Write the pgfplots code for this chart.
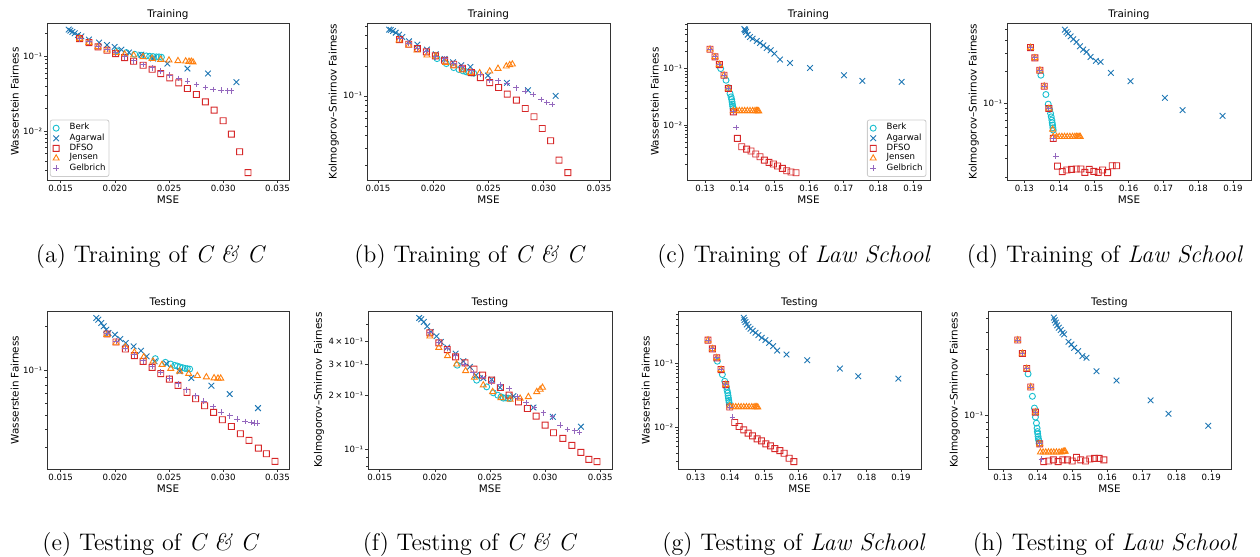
\documentclass[border=0pt]{standalone}
\usepackage{fontspec}
\usepackage{pgfplots}
\pgfplotsset{compat=1.18}
\newfontfamily\dejavu{DejaVu Sans}
\definecolor{tabblue}{HTML}{1F77B4}
\definecolor{taborange}{HTML}{FF7F0E}
\definecolor{tabred}{HTML}{D62728}
\definecolor{tabpurple}{HTML}{9467BD}
\definecolor{tabcyan}{HTML}{17BECF}
\newcommand\tickfont{\dejavu\fontsize{4.3}{5}\selectfont}
\newcommand\labfont{\dejavu\fontsize{5.2}{6}\selectfont}
\newcommand\capfont{\fontsize{12}{14}\selectfont}

% open square as a filled ring (outer path one way, inner path the other way)
\pgfdeclareplotmark{sqring}{%
  \pgfmathsetlengthmacro\sqo{\pgfplotmarksize+0.225pt}%
  \pgfmathsetlengthmacro\sqi{\pgfplotmarksize-0.225pt}%
  \pgfpathmoveto{\pgfqpoint{-\sqo}{-\sqo}}%
  \pgfpathlineto{\pgfqpoint{\sqo}{-\sqo}}%
  \pgfpathlineto{\pgfqpoint{\sqo}{\sqo}}%
  \pgfpathlineto{\pgfqpoint{-\sqo}{\sqo}}%
  \pgfpathclose
  \pgfpathmoveto{\pgfqpoint{-\sqi}{-\sqi}}%
  \pgfpathlineto{\pgfqpoint{-\sqi}{\sqi}}%
  \pgfpathlineto{\pgfqpoint{\sqi}{\sqi}}%
  \pgfpathlineto{\pgfqpoint{\sqi}{-\sqi}}%
  \pgfpathclose
  \pgfusepathqfill}

\pgfplotsset{
  every axis title shift=0pt,
  every axis/.append style={
    scale only axis, scaled x ticks=false, scaled y ticks=false,
    axis line style={draw=black!80, line width=0.35pt},
    tick style={draw=black!80, line width=0.3pt},
    tick align=outside, major tick length=1.3pt, minor tick length=0.8pt,
    xtick pos=lower, ytick pos=left,
    tick label style={font=\tickfont},
    xticklabel style={inner sep=1pt}, yticklabel style={inner sep=1pt},
    label style={font=\labfont},
    xlabel={MSE}, xlabel style={inner sep=1pt}, ylabel style={inner sep=1pt},
    title style={font=\labfont, inner sep=1.5pt},
    legend cell align=left,
    legend style={font=\tickfont, draw=black!20, rounded corners=1pt, fill=white,
      inner sep=1.2pt, row sep=-0.7pt, nodes={inner sep=0.5pt},
      /tikz/every odd column/.append style={column sep=4.5pt}},
  },
  ticksCC/.style={xtick={0.015,0.02,0.025,0.03,0.035},
    xticklabels={0.015,0.020,0.025,0.030,0.035}},
  ticksLaw/.style={xtick={0.13,0.14,0.15,0.16,0.17,0.18,0.19},
    xticklabels={0.13,0.14,0.15,0.16,0.17,0.18,0.19}},
  sBerk/.style={only marks, mark=o, draw=tabcyan, fill=none, mark size=1.5pt,
    mark options={draw=tabcyan, fill=none, line width=0.45pt}},
  sAgarwal/.style={only marks, mark=x, draw=tabblue, mark size=2pt,
    mark options={draw=tabblue, line width=0.45pt}},
  sDFSO/.style={only marks, mark=sqring, color=tabred, mark size=1.5pt,
    mark options={fill=tabred, draw=none}},
  sJensen/.style={only marks, mark=triangle, draw=taborange, fill=none, mark size=1.75pt,
    mark options={draw=taborange, fill=none, line width=0.45pt}},
  sGelbrich/.style={only marks, mark=+, draw=tabpurple, mark size=1.45pt,
    mark options={draw=tabpurple, line width=0.45pt}},
}

\begin{document}
\begin{tikzpicture}
\path[use as bounding box] (0,0) rectangle (630pt,-278.5pt);

% (a) Training C&C Wasserstein
\begin{axis}[ymode=log, ticksCC, anchor=north west, at={(23.5pt,-11.5pt)}, width=121pt, height=78.5pt,
  xmin=0.01374, xmax=0.03606, ymin=0.00222, ymax=0.278,
  ytick={0.01,0.1}, yticklabels={10⁻², 10⁻¹},
  minor ytick={0.003,0.004,0.005,0.006,0.007,0.008,0.009,0.02,0.03,0.04,0.05,0.06,0.07,0.08,0.09,0.2},
  title={Training}, ylabel={Wasserstein Fairness},
  legend style={at={(0.012,0.02)}, anchor=south west}]
\addplot[sBerk] coordinates {(0.02020,0.1178) (0.02106,0.1119) (0.02183,0.1063) (0.02244,0.1031) (0.02290,0.1010) (0.02321,0.1000) (0.02352,0.0990) (0.02383,0.0980) (0.02407,0.0980) (0.02429,0.0970)};
\addplot[sAgarwal] coordinates {(0.01574,0.2270) (0.01589,0.2199) (0.01608,0.2111) (0.01629,0.2026) (0.01660,0.1925) (0.01691,0.1848) (0.01761,0.1668) (0.01854,0.1521) (0.01927,0.1416) (0.01998,0.1332) (0.02060,0.1227) (0.02130,0.1119) (0.02244,0.1052) (0.02352,0.0931) (0.02484,0.0798) (0.02669,0.0685) (0.02859,0.0587) (0.03121,0.0450)};
\addplot[sDFSO] coordinates {(0.01675,0.1720) (0.01761,0.1521) (0.01844,0.1332) (0.01927,0.1202) (0.02007,0.1085) (0.02090,0.0960) (0.02173,0.0858) (0.02260,0.0759) (0.02343,0.0671) (0.02423,0.0587) (0.02506,0.0514) (0.02589,0.0441) (0.02669,0.0371) (0.02752,0.0308) (0.02835,0.0246) (0.02915,0.0191) (0.02998,0.01373) (0.03074,0.00912) (0.03151,0.00530) (0.03228,0.00278)};
\addplot[sJensen] coordinates {(0.01675,0.1720) (0.01761,0.1521) (0.01844,0.1332) (0.01927,0.1202) (0.02014,0.1108) (0.02090,0.1063) (0.02173,0.1031) (0.02260,0.0980) (0.02343,0.0931) (0.02423,0.0903) (0.02499,0.0884) (0.02582,0.0867) (0.02653,0.0858) (0.02684,0.0849) (0.02705,0.0849) (0.02721,0.0832)};
\addplot[sGelbrich] coordinates {(0.01675,0.1720) (0.01761,0.1553) (0.01844,0.1359) (0.01927,0.1227) (0.02007,0.1108) (0.02090,0.0980) (0.02173,0.0867) (0.02260,0.0774) (0.02343,0.0699) (0.02423,0.0631) (0.02506,0.0558) (0.02589,0.0504) (0.02669,0.0464) (0.02752,0.0419) (0.02835,0.0382) (0.02905,0.0359) (0.02982,0.0352) (0.03038,0.0345) (0.03074,0.0345)};
\legend{Berk,Agarwal,DFSO,Jensen,Gelbrich}
\end{axis}

% (b) Training C&C KS
\begin{axis}[ymode=log, ticksCC, anchor=north west, at={(183.5pt,-11.5pt)}, width=121.5pt, height=78.5pt,
  xmin=0.0140, xmax=0.0360, ymin=0.01435, ymax=0.537,
  ytick={0.1}, yticklabels={10⁻¹},
  minor ytick={0.02,0.03,0.04,0.05,0.06,0.07,0.08,0.09,0.2,0.3,0.4,0.5},
  title={Training}, ylabel={Kolmogorov–Smirnov Fairness}]
\addplot[sBerk] coordinates {(0.02034,0.2362) (0.02118,0.2105) (0.02185,0.1920) (0.02233,0.1834) (0.02269,0.1778) (0.02299,0.1738) (0.02324,0.1711) (0.02345,0.1698) (0.02366,0.1685)};
\addplot[sAgarwal] coordinates {(0.01600,0.4607) (0.01615,0.4571) (0.01636,0.4467) (0.01660,0.4299) (0.01690,0.4105) (0.01720,0.3890) (0.01781,0.3522) (0.01856,0.3261) (0.01943,0.2906) (0.02022,0.2610) (0.02103,0.2344) (0.02179,0.2171) (0.02254,0.2026) (0.02336,0.1950) (0.02495,0.1597) (0.02667,0.1349) (0.02857,0.1139) (0.03108,0.1000)};
\addplot[sDFSO] coordinates {(0.01696,0.3660) (0.01778,0.3286) (0.01856,0.2974) (0.01937,0.2754) (0.02019,0.2512) (0.02103,0.2273) (0.02185,0.2073) (0.02263,0.1891) (0.02345,0.1711) (0.02426,0.1525) (0.02511,0.1359) (0.02592,0.1212) (0.02670,0.1039) (0.02752,0.0905) (0.02833,0.0747) (0.02912,0.0617) (0.02987,0.0471) (0.03063,0.0355) (0.03138,0.0227) (0.03219,0.0170)};
\addplot[sJensen] coordinates {(0.01690,0.3604) (0.01778,0.3212) (0.01853,0.2862) (0.01943,0.2550) (0.02022,0.2492) (0.02112,0.2154) (0.02185,0.1980) (0.02263,0.1806) (0.02336,0.1711) (0.02420,0.1698) (0.02511,0.1765) (0.02586,0.1876) (0.02661,0.1980) (0.02692,0.2042) (0.02716,0.2073)};
\addplot[sGelbrich] coordinates {(0.01696,0.3745) (0.01778,0.3388) (0.01856,0.2974) (0.01937,0.2818) (0.02022,0.2455) (0.02103,0.2344) (0.02185,0.2105) (0.02263,0.1950) (0.02345,0.1778) (0.02426,0.1647) (0.02511,0.1435) (0.02586,0.1413) (0.02670,0.1329) (0.02752,0.1202) (0.02833,0.1113) (0.02903,0.1031) (0.02978,0.0919) (0.03029,0.0858) (0.03075,0.0819)};
\end{axis}

% (c) Training Law School Wasserstein
\begin{axis}[ymode=log, ticksLaw, anchor=north west, at={(343.5pt,-11.5pt)}, width=121.5pt, height=78.5pt,
  xmin=0.1248, xmax=0.1949, ymin=0.00107, ymax=0.640,
  ytick={0.01,0.1}, yticklabels={10⁻², 10⁻¹},
  minor ytick={0.002,0.003,0.004,0.005,0.006,0.007,0.008,0.009,0.02,0.03,0.04,0.05,0.06,0.07,0.08,0.09,0.2,0.3,0.4,0.5,0.6},
  title={Training}, ylabel={Wasserstein Fairness},
  legend style={at={(0.985,0.02)}, anchor=south east}]
\addplot[sBerk] coordinates {(0.13452,0.1000) (0.13606,0.0622) (0.13673,0.0462) (0.13721,0.0362) (0.13750,0.0316) (0.13769,0.0284) (0.13779,0.0258) (0.13788,0.0235) (0.13798,0.0216) (0.13808,0.0197)};
\addplot[sAgarwal] coordinates {(0.14135,0.5000) (0.14154,0.4877) (0.14165,0.4700) (0.14183,0.4437) (0.14231,0.3981) (0.14298,0.3621) (0.14375,0.3384) (0.14490,0.3078) (0.14587,0.2837) (0.14683,0.2582) (0.14779,0.2316) (0.14894,0.2106) (0.15000,0.1840) (0.15163,0.1442) (0.15452,0.1259) (0.16029,0.1027) (0.17010,0.0763) (0.17538,0.0606) (0.18673,0.0582)};
\addplot[sDFSO] coordinates {(0.13144,0.2194) (0.13288,0.1607) (0.13413,0.1177) (0.13548,0.0763) (0.13673,0.0444) (0.13817,0.0172) (0.13933,0.00582) (0.14058,0.00415) (0.14202,0.00377) (0.14327,0.00348) (0.14462,0.00308) (0.14587,0.00276) (0.14712,0.00241) (0.14846,0.00219) (0.14971,0.00205) (0.15096,0.00189) (0.15231,0.00172) (0.15356,0.00156) (0.15481,0.00148) (0.15625,0.00144)};
\addplot[sJensen] coordinates {(0.13144,0.2194) (0.13288,0.1607) (0.13413,0.1177) (0.13548,0.0763) (0.13673,0.0444) (0.13817,0.0179) (0.13913,0.0179) (0.13990,0.0179) (0.14067,0.0179) (0.14144,0.0179) (0.14221,0.0179) (0.14298,0.0179) (0.14375,0.0179) (0.14442,0.0179) (0.14490,0.0179) (0.14519,0.0179) (0.14548,0.0177)};
\addplot[sGelbrich] coordinates {(0.13144,0.2194) (0.13288,0.1607) (0.13413,0.1177) (0.13548,0.0763) (0.13673,0.0444) (0.13817,0.0172) (0.13894,0.0091)};
\legend{Berk,Agarwal,DFSO,Jensen,Gelbrich}
\end{axis}

% (d) Training Law School KS
\begin{axis}[ymode=log, ticksLaw, anchor=north west, at={(503.5pt,-11.5pt)}, width=122pt, height=78.5pt,
  xmin=0.1250, xmax=0.1952, ymin=0.0189, ymax=0.577,
  ytick={0.1}, yticklabels={10⁻¹},
  minor ytick={0.02,0.03,0.04,0.05,0.06,0.07,0.08,0.09,0.2,0.3,0.4,0.5},
  title={Training}, ylabel={Kolmogorov–Smirnov Fairness}]
\addplot[sBerk] coordinates {(0.13475,0.1851) (0.13619,0.1216) (0.13686,0.0986) (0.13724,0.0878) (0.13753,0.0805) (0.13772,0.0748) (0.13791,0.0697) (0.13801,0.0657) (0.13811,0.0625) (0.13820,0.0589) (0.13830,0.0560)};
\addplot[sAgarwal] coordinates {(0.14165,0.4990) (0.14213,0.4745) (0.14261,0.4576) (0.14329,0.4317) (0.14405,0.4045) (0.14501,0.3818) (0.14597,0.3475) (0.14693,0.3232) (0.14789,0.3072) (0.14904,0.2756) (0.15058,0.2526) (0.15192,0.2472) (0.15489,0.1947) (0.16055,0.1624) (0.17043,0.1131) (0.17552,0.0865) (0.18703,0.0765)};
\addplot[sDFSO] coordinates {(0.13177,0.3376) (0.13302,0.2697) (0.13446,0.2063) (0.13571,0.1457) (0.13705,0.0897) (0.13830,0.0468) (0.13954,0.0256) (0.14089,0.0227) (0.14223,0.0235) (0.14357,0.0238) (0.14492,0.0240) (0.14626,0.0240) (0.14741,0.0223) (0.14866,0.0238) (0.15000,0.0228) (0.15125,0.0223) (0.15249,0.0235) (0.15393,0.0222) (0.15528,0.0258) (0.15652,0.0258)};
\addplot[sJensen] coordinates {(0.13177,0.3376) (0.13302,0.2697) (0.13446,0.2063) (0.13571,0.1457) (0.13705,0.0897) (0.13811,0.0568) (0.13830,0.0485) (0.13926,0.0485) (0.14002,0.0485) (0.14079,0.0485) (0.14156,0.0485) (0.14233,0.0485) (0.14309,0.0485) (0.14386,0.0485) (0.14453,0.0485) (0.14501,0.0485) (0.14540,0.0485) (0.14578,0.0485) (0.14607,0.0485)};
\addplot[sGelbrich] coordinates {(0.13177,0.3376) (0.13302,0.2697) (0.13446,0.2063) (0.13571,0.1457) (0.13705,0.0897) (0.13830,0.0468) (0.13906,0.0318)};
\end{axis}

% (e) Testing C&C Wasserstein
\begin{axis}[ymode=log, ticksCC, anchor=north west, at={(23.5pt,-155.5pt)}, width=121pt, height=79pt,
  xmin=0.01374, xmax=0.03606, ymin=0.0214, ymax=0.255,
  ytick={0.1}, yticklabels={10⁻¹},
  minor ytick={0.03,0.04,0.05,0.06,0.07,0.08,0.09,0.2},
  title={Testing}, ylabel={Wasserstein Fairness}]
\addplot[sBerk] coordinates {(0.02373,0.1208) (0.02466,0.1140) (0.02515,0.1110) (0.02552,0.1087) (0.02576,0.1076) (0.02601,0.1059) (0.02625,0.1048) (0.02647,0.1037) (0.02668,0.1032) (0.02690,0.1026)};
\addplot[sAgarwal] coordinates {(0.01829,0.2286) (0.01847,0.2227) (0.01875,0.2113) (0.01897,0.2005) (0.01921,0.1903) (0.01940,0.1806) (0.02001,0.1760) (0.02050,0.1644) (0.02100,0.1544) (0.02173,0.1465) (0.02241,0.1369) (0.02293,0.1252) (0.02367,0.1158) (0.02475,0.1116) (0.02598,0.0990) (0.02705,0.0891) (0.02890,0.0790) (0.03059,0.0693) (0.03320,0.0556)};
\addplot[sDFSO] coordinates {(0.01927,0.1778) (0.02010,0.1568) (0.02097,0.1405) (0.02180,0.1266) (0.02260,0.1158) (0.02343,0.1054) (0.02423,0.0954) (0.02502,0.0877) (0.02582,0.0794) (0.02665,0.0712) (0.02745,0.0644) (0.02828,0.0577) (0.02911,0.0520) (0.02991,0.0463) (0.03074,0.0417) (0.03157,0.0372) (0.03237,0.0335) (0.03323,0.0297) (0.03397,0.0272) (0.03477,0.0241)};
\addplot[sJensen] coordinates {(0.01927,0.1760) (0.02010,0.1544) (0.02097,0.1450) (0.02180,0.1334) (0.02266,0.1239) (0.02352,0.1158) (0.02435,0.1099) (0.02515,0.1032) (0.02598,0.0990) (0.02681,0.0954) (0.02761,0.0924) (0.02844,0.0905) (0.02915,0.0891) (0.02951,0.0887) (0.02976,0.0887)};
\addplot[sGelbrich] coordinates {(0.01927,0.1806) (0.02010,0.1585) (0.02097,0.1427) (0.02180,0.1285) (0.02260,0.1170) (0.02343,0.1070) (0.02423,0.0979) (0.02502,0.0891) (0.02582,0.0815) (0.02659,0.0742) (0.02745,0.0675) (0.02819,0.0618) (0.02905,0.0571) (0.02982,0.0523) (0.03059,0.0493) (0.03130,0.0468) (0.03200,0.0451) (0.03259,0.0444) (0.03290,0.0440) (0.03311,0.0440)};
\end{axis}

% (f) Testing C&C KS
\begin{axis}[ymode=log, ticksCC, anchor=north west, at={(184pt,-155.5pt)}, width=122pt, height=79pt,
  xmin=0.01394, xmax=0.03606, ymin=0.0777, ymax=0.593,
  ytick={0.1,0.2,0.3,0.4}, yticklabels={10⁻¹, 2\,×\,10⁻¹, 3\,×\,10⁻¹, 4\,×\,10⁻¹},
  minor ytick={0.08,0.09,0.5},
  title={Testing}, ylabel={Kolmogorov–Smirnov Fairness}]
\addplot[sBerk] coordinates {(0.02203,0.2953) (0.02379,0.2435) (0.02470,0.2235) (0.02530,0.2070) (0.02570,0.2009) (0.02600,0.1966) (0.02621,0.1933) (0.02642,0.1941) (0.02664,0.1933) (0.02682,0.1925)};
\addplot[sAgarwal] coordinates {(0.01858,0.5423) (0.01876,0.5331) (0.01900,0.5152) (0.01930,0.4872) (0.01964,0.4530) (0.02015,0.4285) (0.02055,0.3985) (0.02112,0.3706) (0.02188,0.3429) (0.02258,0.3109) (0.02318,0.2891) (0.02373,0.2598) (0.02439,0.2500) (0.02515,0.2456) (0.02591,0.2216) (0.02712,0.1983) (0.02894,0.1715) (0.03070,0.1521) (0.03324,0.1338)};
\addplot[sDFSO] coordinates {(0.01955,0.4473) (0.02036,0.3934) (0.02112,0.3611) (0.02188,0.3286) (0.02273,0.3043) (0.02355,0.2805) (0.02433,0.2598) (0.02515,0.2435) (0.02594,0.2216) (0.02673,0.2009) (0.02758,0.1844) (0.02839,0.1693) (0.02918,0.1534) (0.03000,0.1367) (0.03076,0.1239) (0.03161,0.1152) (0.03242,0.1053) (0.03324,0.0962) (0.03397,0.0880) (0.03470,0.0854)};
\addplot[sJensen] coordinates {(0.01955,0.4285) (0.02036,0.3706) (0.02115,0.3329) (0.02197,0.2991) (0.02279,0.2746) (0.02358,0.2521) (0.02439,0.2284) (0.02524,0.2097) (0.02600,0.1941) (0.02682,0.1900) (0.02773,0.1925) (0.02848,0.1966) (0.02924,0.2097) (0.02955,0.2161) (0.02976,0.2216)};
\addplot[sGelbrich] coordinates {(0.01955,0.4473) (0.02036,0.3967) (0.02112,0.3659) (0.02188,0.3329) (0.02267,0.2991) (0.02348,0.2677) (0.02433,0.2521) (0.02515,0.2374) (0.02591,0.2304) (0.02673,0.2188) (0.02748,0.1966) (0.02827,0.1820) (0.02903,0.1715) (0.02985,0.1601) (0.03067,0.1521) (0.03136,0.1367) (0.03203,0.1293) (0.03267,0.1271) (0.03312,0.1244)};
\end{axis}

% (g) Testing Law School Wasserstein
\begin{axis}[ymode=log, ticksLaw, anchor=north west, at={(339pt,-155.5pt)}, width=121.5pt, height=79pt,
  xmin=0.12483, xmax=0.19585, ymin=0.00224, ymax=0.664,
  ytick={0.01,0.1}, yticklabels={10⁻², 10⁻¹},
  minor ytick={0.003,0.004,0.005,0.006,0.007,0.008,0.009,0.02,0.03,0.04,0.05,0.06,0.07,0.08,0.09,0.2,0.3,0.4,0.5,0.6},
  title={Testing}, ylabel={Wasserstein Fairness}]
\addplot[sBerk] coordinates {(0.13634,0.1088) (0.13780,0.0672) (0.13849,0.0528) (0.13898,0.0430) (0.13917,0.0381) (0.13937,0.0346) (0.13946,0.0314) (0.13956,0.0289) (0.13966,0.0265) (0.13976,0.0247) (0.13985,0.0227)};
\addplot[sAgarwal] coordinates {(0.14405,0.5216) (0.14424,0.4793) (0.14454,0.4459) (0.14493,0.4099) (0.14541,0.3766) (0.14600,0.3504) (0.14668,0.3259) (0.14746,0.3032) (0.14834,0.2786) (0.14932,0.2529) (0.15039,0.2326) (0.15146,0.2112) (0.15263,0.1872) (0.15380,0.1600) (0.15654,0.1385) (0.16259,0.1128) (0.17215,0.0835) (0.17751,0.0632) (0.18922,0.0581)};
\addplot[sDFSO] coordinates {(0.13361,0.2326) (0.13488,0.1700) (0.13615,0.1227) (0.13741,0.0805) (0.13878,0.0468) (0.13995,0.0209) (0.14141,0.01198) (0.14268,0.01037) (0.14405,0.00919) (0.14532,0.00815) (0.14659,0.00740) (0.14795,0.00664) (0.14922,0.00618) (0.15049,0.00554) (0.15185,0.00515) (0.15312,0.00468) (0.15459,0.00435) (0.15585,0.00395) (0.15732,0.00330) (0.15868,0.00292)};
\addplot[sJensen] coordinates {(0.13361,0.2326) (0.13488,0.1700) (0.13615,0.1227) (0.13741,0.0805) (0.13878,0.0468) (0.13995,0.0215) (0.14093,0.0209) (0.14171,0.0209) (0.14249,0.0209) (0.14327,0.0209) (0.14405,0.0209) (0.14483,0.0209) (0.14561,0.0209) (0.14639,0.0209) (0.14707,0.0209) (0.14756,0.0209) (0.14785,0.0209) (0.14815,0.0207)};
\addplot[sGelbrich] coordinates {(0.13361,0.2326) (0.13488,0.1700) (0.13615,0.1227) (0.13741,0.0805) (0.13878,0.0468) (0.13995,0.0209) (0.14073,0.01453)};
\end{axis}

% (h) Testing Law School KS
\begin{axis}[ymode=log, ticksLaw, anchor=north west, at={(494pt,-155.5pt)}, width=121.5pt, height=79pt,
  xmin=0.12567, xmax=0.19567, ymin=0.0414, ymax=0.567,
  ytick={0.1}, yticklabels={10⁻¹},
  minor ytick={0.05,0.06,0.07,0.08,0.09,0.2,0.3,0.4,0.5},
  title={Testing}, ylabel={Kolmogorov–Smirnov Fairness}]
\addplot[sBerk] coordinates {(0.13721,0.2000) (0.13846,0.1380) (0.13904,0.1136) (0.13933,0.0978) (0.13962,0.0885) (0.13981,0.0814) (0.13990,0.0770) (0.14000,0.0741) (0.14010,0.0709) (0.14019,0.0682) (0.14029,0.0663) (0.14038,0.0634)};
\addplot[sAgarwal] coordinates {(0.14462,0.5082) (0.14490,0.4861) (0.14519,0.4677) (0.14558,0.4473) (0.14606,0.4303) (0.14663,0.4140) (0.14712,0.3960) (0.14760,0.3851) (0.14885,0.3407) (0.14971,0.3260) (0.15048,0.3084) (0.15163,0.2918) (0.15288,0.2685) (0.15404,0.2612) (0.15692,0.2091) (0.16269,0.1791) (0.17250,0.1291) (0.17769,0.1034) (0.18913,0.0847)};
\addplot[sDFSO] coordinates {(0.13423,0.3505) (0.13558,0.2806) (0.13683,0.2186) (0.13798,0.1611) (0.13933,0.1063) (0.14058,0.0628) (0.14173,0.0468) (0.14317,0.0473) (0.14452,0.0481) (0.14587,0.0468) (0.14721,0.0481) (0.14856,0.0481) (0.14990,0.0473) (0.15115,0.0502) (0.15240,0.0481) (0.15375,0.0473) (0.15500,0.0489) (0.15635,0.0494) (0.15769,0.0494) (0.15904,0.0481)};
\addplot[sJensen] coordinates {(0.13423,0.3505) (0.13558,0.2806) (0.13683,0.2186) (0.13798,0.1611) (0.13933,0.1063) (0.14058,0.0628) (0.14077,0.0546) (0.14154,0.0546) (0.14231,0.0546) (0.14308,0.0546) (0.14385,0.0546) (0.14462,0.0546) (0.14538,0.0546) (0.14615,0.0546) (0.14683,0.0546) (0.14731,0.0552) (0.14760,0.0555) (0.14788,0.0555)};
\addplot[sGelbrich] coordinates {(0.13423,0.3505) (0.13558,0.2806) (0.13683,0.2186) (0.13798,0.1611) (0.13933,0.1063) (0.14058,0.0628) (0.14106,0.0486)};
\end{axis}

% sub-captions
\node[anchor=base, font=\capfont] at (75.5pt,-131pt) {(a)~Training of \textit{C \& C}};
\node[anchor=base, font=\capfont] at (235pt,-131pt) {(b)~Training of \textit{C \& C}};
\node[anchor=base, font=\capfont] at (397pt,-131pt) {(c)~Training of \textit{Law School}};
\node[anchor=base, font=\capfont] at (552.5pt,-131pt) {(d)~Training of \textit{Law School}};
\node[anchor=base, font=\capfont] at (75.5pt,-275pt) {(e)~Testing of \textit{C \& C}};
\node[anchor=base, font=\capfont] at (235pt,-275pt) {(f)~Testing of \textit{C \& C}};
\node[anchor=base, font=\capfont] at (397pt,-275pt) {(g)~Testing of \textit{Law School}};
\node[anchor=base, font=\capfont] at (552.5pt,-275pt) {(h)~Testing of \textit{Law School}};
\end{tikzpicture}
\end{document}
